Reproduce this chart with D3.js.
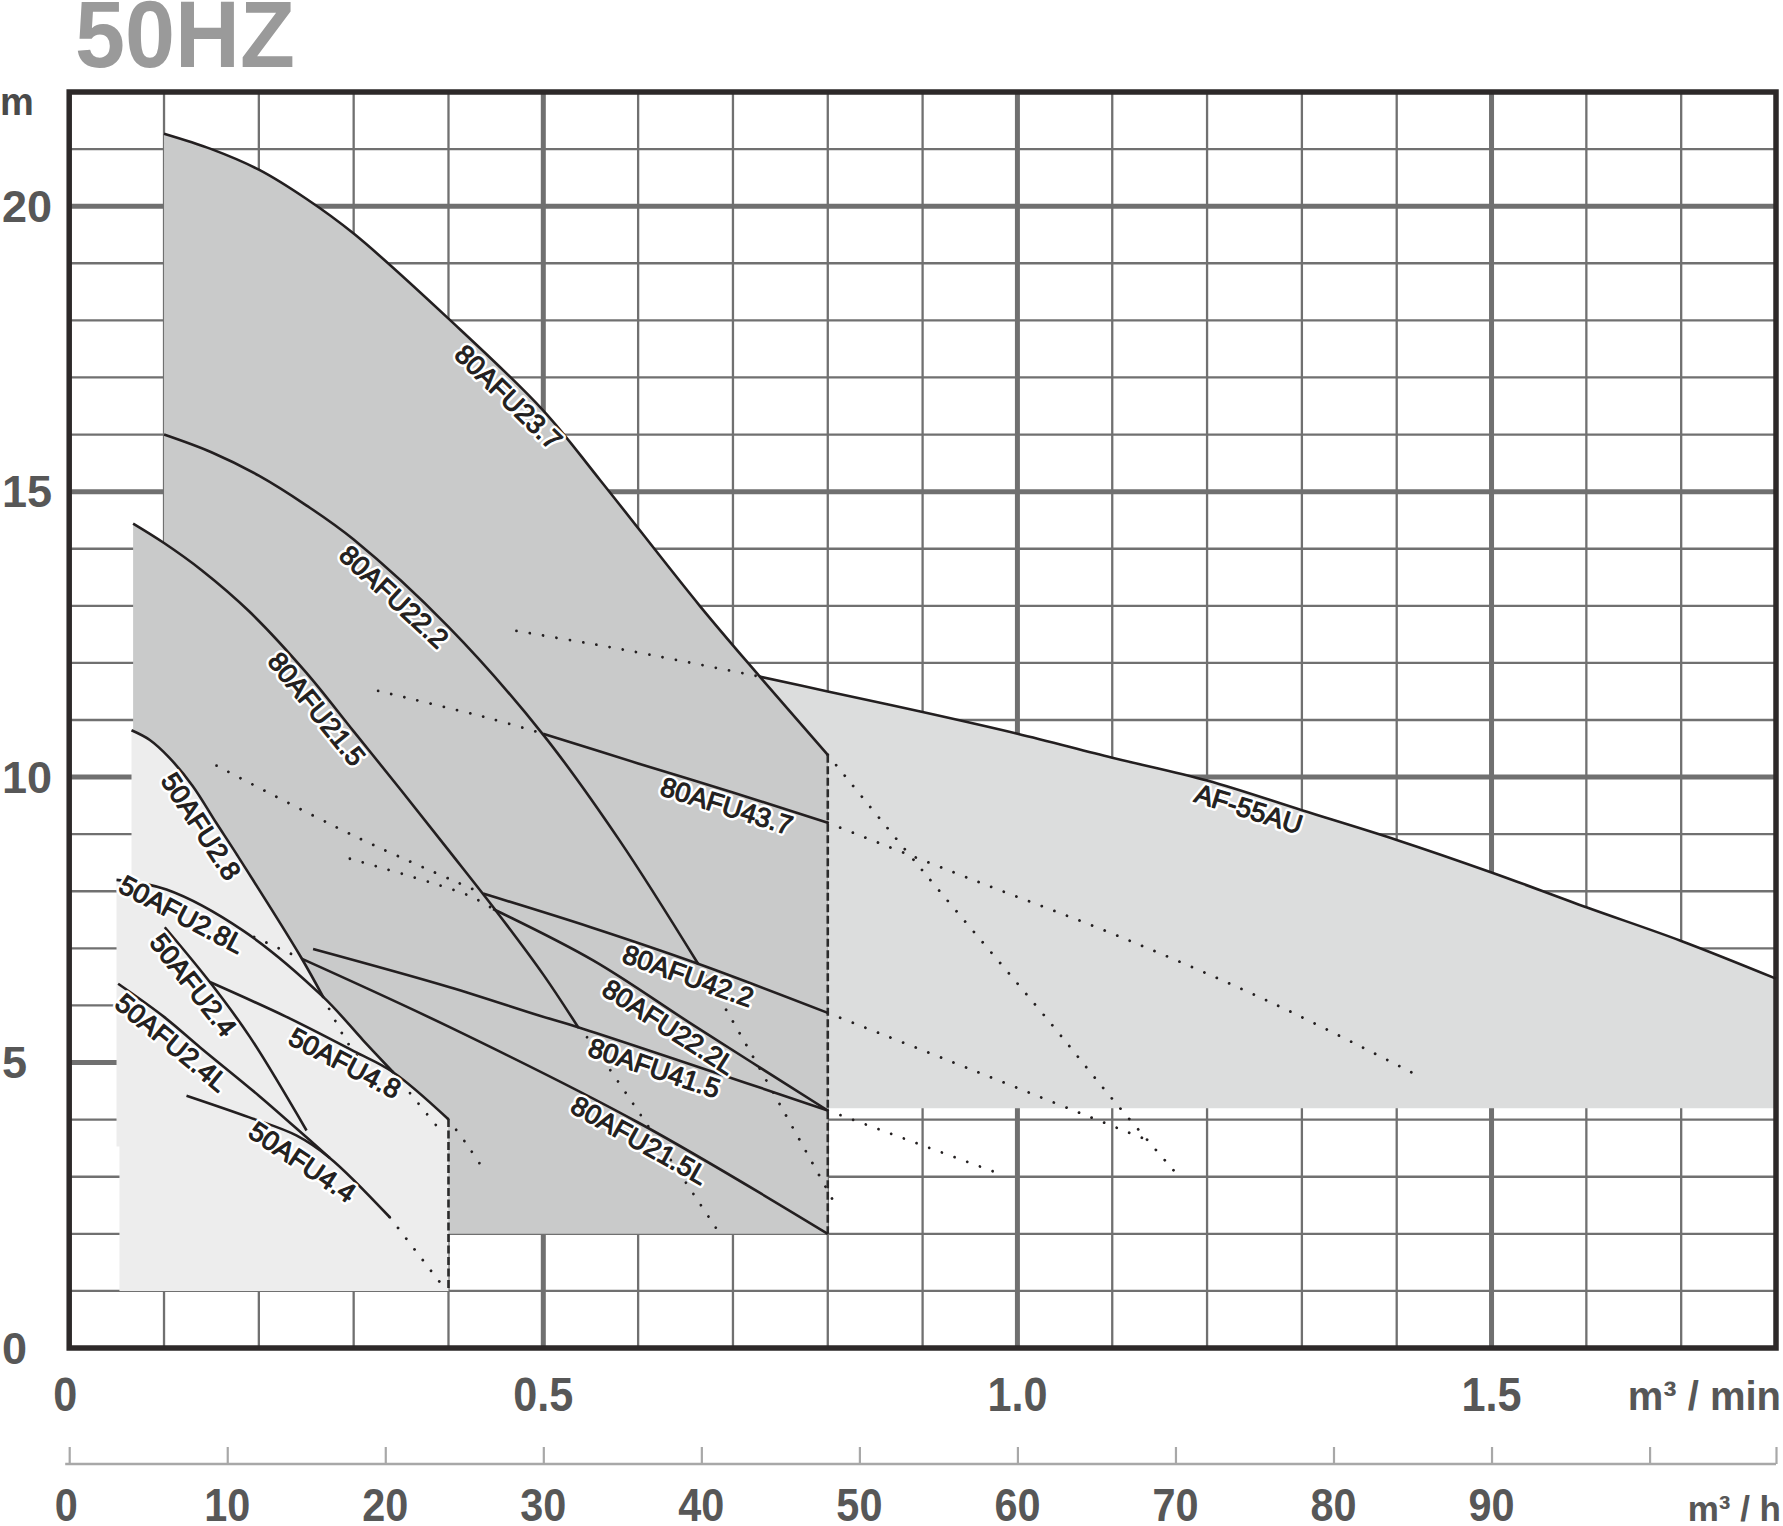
<!DOCTYPE html>
<html><head><meta charset="utf-8">
<script src="https://cdn.jsdelivr.net/npm/d3@7"></script>
<style>
html,body{margin:0;padding:0;background:#fff;}
svg{display:block;}
</style></head>
<body>
<svg id="chart" width="1783" height="1526"></svg>
<script>
// ================= DATA =================
const titleText = "50HZ";
const yTickValues = [0, 5, 10, 15, 20];
const yTickLabels = ["0", "5", "10", "15", "20"];
const xMinTickValues = [0, 0.5, 1.0, 1.5];
const xMinTickLabels = ["0", "0.5", "1.0", "1.5"];
const hourTickValues = [0, 10, 20, 30, 40, 50, 60, 70, 80, 90, 100, 108];
const hourTickLabels = ["0", "10", "20", "30", "40", "50", "60", "70", "80", "90", "", ""];
const yUnit = "m", xUnitMin = "m³ / min", xUnitHour = "m³ / h";

// pump curves: [Q (m³/min), H (m)]
const c80AFU23_7 = [[0.1,21.27],[0.15,21.0],[0.2,20.64],[0.25,20.13],[0.3,19.52],[0.4,18.03],[0.5,16.42],[0.56,15.2],[0.665,13.0],[0.7283,11.76],[0.8,10.39]];
const c80AFU22_2 = [[0.1,16.0],[0.15,15.69],[0.2,15.28],[0.25,14.76],[0.3,14.16],[0.4,12.63],[0.5,10.74],[0.58,8.9],[0.6632,6.73]];
const c80AFU21_5 = [[0.0674,14.44],[0.1,14.1],[0.14,13.62],[0.19,12.9],[0.25,11.83],[0.3,10.8],[0.35,9.77],[0.4,8.72],[0.45,7.66],[0.5,6.54],[0.5367,5.62]];
const c50AFU2_8 = [[0.0657,10.82],[0.085,10.65],[0.105,10.35],[0.13,9.85],[0.155,9.2],[0.1765,8.65],[0.2432,6.88],[0.2678,6.15]];
const c50AFU2_8L = [[0.0499,8.2],[0.1026,8.03],[0.1834,7.31],[0.2678,6.15],[0.31,5.39],[0.3416,4.83]];
const c50AFU4_8 = [[0.1483,6.41],[0.2291,5.8],[0.3,5.2],[0.3416,4.83],[0.3996,4.01]];
const c50AFU2_4 = [[0.1008,7.37],[0.1483,6.41],[0.1905,5.45],[0.2503,3.81]];
const c50AFU2_4L = [[0.0516,6.38],[0.1,5.8],[0.1378,5.27],[0.2,4.42],[0.2503,3.69],[0.2748,3.33]];
const c50AFU4_4 = [[0.1237,4.42],[0.19,4.04],[0.24,3.72],[0.2748,3.33],[0.3381,2.29]];
const c80AFU43_7 = [[0.4998,10.76],[0.6,10.24],[0.7,9.73],[0.8,9.2]];
const c80AFU42_2 = [[0.4365,7.96],[0.55,7.37],[0.6632,6.73],[0.8,5.87]];
const c80AFU22_2L = [[0.447,7.69],[0.5525,6.79],[0.6615,5.62],[0.8,4.16]];
const c80AFU41_5 = [[0.2572,6.99],[0.4013,6.32],[0.4963,5.82],[0.5367,5.62],[0.8,4.16]];
const c80AFU21_5L = [[0.245,6.82],[0.4013,5.62],[0.6,3.95],[0.8,2.0]];
const cAF55AU = [[0.7283,11.76],[0.8,11.5],[0.9,11.14],[1.0,10.76],[1.1,10.34],[1.2,9.94],[1.3,9.42],[1.4,8.9],[1.5,8.33],[1.6,7.72],[1.7,7.13],[1.8,6.47]];

// dotted extensions (outside operating range)
const e80AFU23_7 = [[0.8,10.39],[0.9005,8.35],[1.034,5.71],[1.1007,4.35],[1.169,3.03]];
const e80AFU43_7R = [[0.8,9.2],[0.95,8.22],[1.1088,7.2],[1.273,6.01],[1.42,4.79]];
const e80AFU43_7L = [[0.3258,11.51],[0.4453,11.02],[0.4998,10.76]];
const eAF55AU = [[0.4717,12.56],[0.5314,12.39],[0.5789,12.25],[0.6439,12.04],[0.7283,11.76]];
const e80AFU42_2L = [[0.1554,10.2],[0.303,8.95],[0.4365,7.96]];
const e80AFU42_2R = [[0.8,5.87],[0.954,4.86],[1.1405,3.62]];
const e80AFU22_2LL = [[0.296,8.57],[0.4206,7.93],[0.447,7.69]];
const e80AFU41_5R = [[0.8,4.16],[0.9848,3.03]];
const e80AFU22_2 = [[0.6632,6.73],[0.688,6.06],[0.75,4.25],[0.8057,2.58]];
const e80AFU21_5 = [[0.5367,5.62],[0.5472,5.42],[0.6826,2.09]];
const e80AFU21_5L = [[0.195,7.2],[0.245,6.82]];
const e50AFU2_8 = [[0.2678,6.15],[0.2924,5.38],[0.32,4.75]];
const e50AFU2_8L = [[0.3416,4.83],[0.3557,4.54],[0.3943,3.75]];
const e50AFU4_8 = [[0.3996,4.01],[0.42,3.55],[0.44,3.05]];
const e50AFU4_4 = [[0.3381,2.29],[0.391,1.15]];

// region limits
const lightBottomH = 1.0, mediumBottomH = 2.0, afBottomH = 4.2;
const lightLeftQ = 0.0499, lightLeftQ2 = 0.053, lightStepH = 3.53;
const seriesRightQ = 0.4, groupRightQ = 0.8;

// curve labels: text, Q position along its curve
const labelTexts = ["80AFU23.7","80AFU22.2","80AFU21.5","50AFU2.8","50AFU2.8L","50AFU2.4","50AFU2.4L","50AFU4.8","50AFU4.4","80AFU43.7","80AFU42.2","80AFU22.2L","80AFU41.5","80AFU21.5L","AF-55AU"];
const labelQ = [0.474,0.353,0.273,0.152,0.126,0.143,0.118,0.298,0.257,0.698,0.658,0.641,0.622,0.609,1.2485];

// ================= DRAWING =================
const svg = d3.select("#chart");
const FONT = "'Liberation Sans', Arial, Helvetica, sans-serif";
const x = d3.scaleLinear().domain([0, 1.8]).range([69.2, 1776]);
const y = d3.scaleLinear().domain([0, 22]).range([1348, 92]);
const xh = d3.scaleLinear().domain([0, 108]).range([69.2, 1776]);

const INK = "#231f20";
const line = d3.line().x(d => x(d[0])).y(d => y(d[1])).curve(d3.curveCatmullRom.alpha(0.5));
const cont = pts => line(pts).replace(/^M/, "L");
const P = (q, h) => `L${x(q)},${y(h)}`;

// grid
const g = svg.append("g");
const xGrid = d3.range(1, 18).map(i => i / 10);
const yGrid = d3.range(1, 22);
g.selectAll("line.gx").data(xGrid).join("line").attr("class","gx")
  .attr("x1", d => x(d)).attr("x2", d => x(d)).attr("y1", y(22)).attr("y2", y(0))
  .attr("stroke", "#707070").attr("stroke-width", d => (Math.round(d * 10) % 5 === 0) ? 5 : 2.3);
g.selectAll("line.gy").data(yGrid).join("line").attr("class","gy")
  .attr("y1", d => y(d)).attr("y2", d => y(d)).attr("x1", x(0)).attr("x2", x(1.8))
  .attr("stroke", "#707070").attr("stroke-width", d => (d % 5 === 0) ? 5 : 2.3);

// regions
const afPath = line(cAF55AU) + P(1.8, afBottomH) + P(groupRightQ, afBottomH) + P(groupRightQ, 10.39) + "Z";
svg.append("path").attr("d", afPath).attr("fill", "#dcdddd");

const medPath = line(c80AFU21_5.slice(0, 2)) + P(0.1, c80AFU23_7[0][1]) + cont(c80AFU23_7)
  + P(groupRightQ, mediumBottomH) + P(c80AFU21_5[0][0], mediumBottomH) + "Z";
svg.append("path").attr("d", medPath).attr("fill", "#c9caca");

const lightPath = line(c50AFU2_8) + cont(c50AFU2_8L.filter(d => d[0] >= 0.2678))
  + cont(c50AFU4_8.filter(d => d[0] >= 0.3416))
  + P(seriesRightQ, lightBottomH) + P(lightLeftQ2, lightBottomH) + P(lightLeftQ2, lightStepH)
  + P(lightLeftQ, lightStepH) + P(lightLeftQ, c50AFU2_8L[0][1]) + P(c50AFU2_8[0][0], c50AFU2_8L[0][1]) + "Z";
svg.append("path").attr("d", lightPath).attr("fill", "#ededed");

// border
svg.append("rect").attr("x", x(0)).attr("y", y(22)).attr("width", x(1.8) - x(0)).attr("height", y(0) - y(22))
  .attr("fill", "none").attr("stroke", "#2d2929").attr("stroke-width", 5.5);

// dotted extensions
const dotted = [e80AFU23_7, e80AFU43_7R, e80AFU43_7L, eAF55AU, e80AFU42_2L, e80AFU42_2R, e80AFU22_2LL,
  e80AFU41_5R, e80AFU22_2, e80AFU21_5, e80AFU21_5L, e50AFU2_8, e50AFU2_8L, e50AFU4_8, e50AFU4_4];
svg.append("g").selectAll("path").data(dotted).join("path")
  .attr("d", d => line(d)).attr("fill", "none").attr("stroke", INK)
  .attr("stroke-width", 2.8).attr("stroke-linecap", "round").attr("stroke-dasharray", "0.01 13.5");

// dashed verticals
svg.append("line").attr("x1", x(seriesRightQ)).attr("x2", x(seriesRightQ))
  .attr("y1", y(4.01)).attr("y2", y(lightBottomH))
  .attr("stroke", "#2b2b2b").attr("stroke-width", 2.6).attr("stroke-dasharray", "8 3.5");
svg.append("line").attr("x1", x(groupRightQ)).attr("x2", x(groupRightQ))
  .attr("y1", y(10.39)).attr("y2", y(mediumBottomH))
  .attr("stroke", "#2b2b2b").attr("stroke-width", 2.6).attr("stroke-dasharray", "8 3.5");

// solid curves
const solid = [c80AFU23_7, c80AFU22_2, c80AFU21_5, c50AFU2_8, c50AFU2_8L, c50AFU4_8, c50AFU2_4, c50AFU2_4L,
  c50AFU4_4, c80AFU43_7, c80AFU42_2, c80AFU22_2L, c80AFU41_5, c80AFU21_5L, cAF55AU];
svg.append("g").selectAll("path").data(solid).join("path")
  .attr("d", d => line(d)).attr("fill", "none").attr("stroke", INK)
  .attr("stroke-width", 2.6).attr("stroke-linejoin", "round");

// curve labels
const labelCurves = [c80AFU23_7, c80AFU22_2, c80AFU21_5, c50AFU2_8, c50AFU2_8L, c50AFU2_4, c50AFU2_4L,
  c50AFU4_8, c50AFU4_4, c80AFU43_7, c80AFU42_2, c80AFU22_2L, c80AFU41_5, c80AFU21_5L, cAF55AU];
function at(pts, q) {
  q = Math.max(pts[0][0], Math.min(pts[pts.length - 1][0], q));
  for (let i = 0; i < pts.length - 1; i++) {
    const a = pts[i], b = pts[i + 1];
    if (q >= a[0] && q <= b[0]) {
      const t = (q - a[0]) / (b[0] - a[0]);
      return [q, a[1] + t * (b[1] - a[1])];
    }
  }
  return pts[pts.length - 1];
}
const gl = svg.append("g");
labelTexts.forEach((txt, i) => {
  const pts = labelCurves[i], q = labelQ[i];
  const p = at(pts, q), p1 = at(pts, q - 0.025), p2 = at(pts, q + 0.025);
  const dx = x(p2[0]) - x(p1[0]), dy = y(p2[1]) - y(p1[1]);
  const len = Math.hypot(dx, dy), ux = dx / len, uy = dy / len;
  const off = txt === "50AFU4.4" ? 19 : 15;
  const cx = x(p[0]) - uy * off, cy = y(p[1]) + ux * off;
  const ang = Math.atan2(dy, dx) * 180 / Math.PI;
  const t = gl.append("g").attr("transform", `translate(${cx},${cy}) rotate(${ang})`);
  t.append("text").text(txt).attr("text-anchor", "middle").attr("dominant-baseline", "central")
    .attr("font-family", FONT).attr("font-size", 27).attr("fill", "#fff")
    .attr("stroke", "#fff").attr("stroke-width", 6).attr("stroke-linejoin", "round");
  t.append("text").text(txt).attr("text-anchor", "middle").attr("dominant-baseline", "central")
    .attr("font-family", FONT).attr("font-size", 27).attr("fill", INK)
    .attr("stroke", INK).attr("stroke-width", 1.1).attr("stroke-linejoin", "round");
});

// title
svg.append("text").text(titleText).attr("transform", "translate(75,67) scale(0.957,1)")
  .attr("font-family", FONT).attr("font-weight", "bold").attr("font-size", 94).attr("fill", "#9a9a9a");

// y axis labels
const TXT = "#575757";
svg.append("g").selectAll("text").data(yTickValues).join("text")
  .text((d, i) => yTickLabels[i]).attr("x", 2).attr("y", d => y(d)).attr("dominant-baseline", "central")
  .attr("font-family", FONT).attr("font-weight", "bold").attr("font-size", 45).attr("fill", TXT);
svg.append("text").text(yUnit).attr("x", 0).attr("y", 115)
  .attr("font-family", FONT).attr("font-weight", "bold").attr("font-size", 38).attr("fill", "#4a4a4a");

// x axis (m³/min) labels
svg.append("g").selectAll("text").data(xMinTickValues).join("text")
  .text((d, i) => xMinTickLabels[i])
  .attr("transform", d => `translate(${x(d) - (d === 0 ? 4 : 0)},1411) scale(0.9,1)`)
  .attr("text-anchor", "middle")
  .attr("font-family", FONT).attr("font-weight", "bold").attr("font-size", 48).attr("fill", TXT);
svg.append("text").text(xUnitMin).attr("x", 1781).attr("y", 1410).attr("text-anchor", "end")
  .attr("font-family", FONT).attr("font-weight", "bold").attr("font-size", 40).attr("fill", TXT);

// second axis (m³/h)
const hAxis = d3.axisBottom(xh).tickValues(hourTickValues).tickSize(-17).tickFormat("");
const ga = svg.append("g").attr("transform", "translate(0,1464)").call(hAxis);
ga.select(".domain").attr("d", `M${xh(0) - 4},0H${xh(108)}`).attr("stroke", "#a8a8a8").attr("stroke-width", 2.6);
ga.selectAll(".tick line").attr("stroke", "#a8a8a8").attr("stroke-width", 2.2);
svg.append("g").selectAll("text").data(hourTickValues).join("text")
  .text((d, i) => hourTickLabels[i])
  .attr("transform", d => `translate(${xh(d) - (d === 0 ? 3 : 0)},1521) scale(0.9,1)`)
  .attr("text-anchor", "middle")
  .attr("font-family", FONT).attr("font-weight", "bold").attr("font-size", 46).attr("fill", TXT);
svg.append("text").text(xUnitHour).attr("x", 1781).attr("y", 1521).attr("text-anchor", "end")
  .attr("font-family", FONT).attr("font-weight", "bold").attr("font-size", 35).attr("fill", TXT);
</script>
</body></html>
